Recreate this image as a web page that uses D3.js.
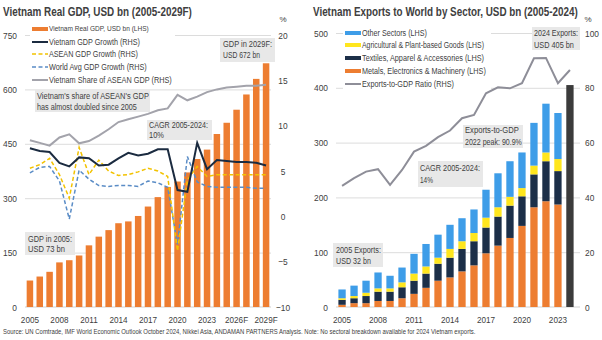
<!DOCTYPE html>
<html><head><meta charset="utf-8">
<script src="https://cdn.jsdelivr.net/npm/d3@7"></script>
<style>
body{margin:0;background:#fff;}
svg text{font-family:'Liberation Sans',Arial,sans-serif;fill:#404040;}
</style></head><body>
<script>
// ---------- DATA: left chart ----------
const gdpYears = ["2005","2006","2007","2008","2009","2010","2011","2012","2013","2014","2015","2016","2017","2018","2019","2020","2021","2022","2023","2024","2025F","2026F","2027F","2028F","2029F"];
const gdpTickLabels = ["2005","2008","2011","2014","2017","2020","2023","2026F","2029F"];
const realGDP = [73,84,97,123,129,142,170,194,212,231,236,251,277,303,331,346,371,408,434,477,508,544,586,629,672];
const vnGrowth = [7.5,7.2,7.1,5.9,5.5,6.5,6.4,5.6,5.7,6.4,7.0,6.7,6.9,7.4,7.4,2.9,2.7,8.1,5.2,6.2,6.1,6.0,6.0,5.9,5.6];
const aseanGrowth = [5.3,5.7,6.4,4.6,2.0,7.6,4.6,6.2,5.0,4.5,4.6,4.9,5.3,5.0,4.4,-3.8,4.0,5.5,4.4,4.6,4.6,4.6,4.6,4.6,4.6];
const worldGrowth = [4.8,5.4,5.5,3.9,-0.3,5.1,4.1,3.4,3.3,3.4,3.4,3.3,3.9,3.7,3.2,-3.1,6.6,3.8,3.3,3.2,3.2,3.2,3.2,3.1,3.1];
const vnShareASEAN = [8.4,8.1,7.8,8.7,9.05,8.05,8.3,8.9,9.6,10.4,10.7,11.0,11.3,11.7,11.9,13.4,12.8,13.2,13.7,14.0,14.2,14.3,14.4,14.4,14.5];
const leftTicksL = [0,150,300,450,600,750];
const leftTicksR = [-10,-5,0,5,10,15,20];

// ---------- DATA: right chart ----------
const exYears = ["2005","2006","2007","2008","2009","2010","2011","2012","2013","2014","2015","2016","2017","2018","2019","2020","2021","2022","2023","2024"];
const exTickLabels = ["2005","2008","2011","2014","2017","2020","2023"];
const metals   = [4,7,7,11,11,16,24,35,48,54,65,76,98,112,126,148,182,193,187,0];
const textiles = [9,9,13,17,17,20,24,26,31,36,41,44,47,53,59,54,60,73,61,0];
const agri     = [3,4,6,6,6,9,13,13,11,16,14,15,18,17,16,15,16,16,22,0];
const other    = [16,19,22,29,23,27,36,41,42,44,42,43,51,62,65,65,78,89,84,0];
const totalNoBreakdown = [0,0,0,0,0,0,0,0,0,0,0,0,0,0,0,0,0,0,0,405];
const exportsToGDP = [44.2,47,49.4,50.3,44.6,50,56.7,58.8,62,64.4,68.9,70.1,78,80.2,79.8,81.7,90.8,90.9,81.7,86.5];
const rightTicksL = [0,100,200,300,400,500];
const rightTicksR = [0,20,40,60,80,100];

// ---------- STYLE ----------
const C = {orange:"#ED7D31", navy:"#1B2B40", yellow:"#F2C200", blueDash:"#5A8CC6", gray:"#A3A3AB",
           blue:"#3E9DE8", yel2:"#FFE61E", navy2:"#1C2F48", dark:"#3B3B3B", grid:"#DCDCDC", box:"#E8E8E8"};

const svg = d3.select("body").append("svg").attr("width",602).attr("height",340);

// horizontally scale a text about its anchor x so that it is w px wide (or by factor f)
function scaleText(node, f){
  const x0 = +(node.getAttribute("x")||0);
  const prev = node.getAttribute("transform")||"";
  node.setAttribute("transform", prev+` translate(${x0},0) scale(${f},1) translate(${-x0},0)`);
}
function fitText(sel, w){ sel.each(function(){ scaleText(this, w/this.getComputedTextLength()); }); return sel; }
function condense(sel, f){ sel.each(function(){ scaleText(this, f); }); }

function addBox(g, x, y, w, h, lines, base1, base2, tx, w1, w2){
  g.append("rect").attr("x",x).attr("y",y).attr("width",w).attr("height",h).attr("fill",C.box);
  fitText(g.append("text").attr("x",tx).attr("y",base1).attr("font-size",9).text(lines[0]), w1);
  fitText(g.append("text").attr("x",tx).attr("y",base2).attr("font-size",9).text(lines[1]), w2);
}

// ================= LEFT CHART =================
{
  const g = svg.append("g");
  const x = d3.scaleBand().domain(gdpYears).range([25,271]).paddingInner(0.34).paddingOuter(0.17);
  const yL = d3.scaleLinear().domain([0,750]).range([307,35]);
  const yR = d3.scaleLinear().domain([-10,20]).range([307,35]);
  const cx = d => x(d) + x.bandwidth()/2;

  g.append("g").attr("transform","translate(25,0)")
    .call(d3.axisLeft(yL).tickValues(leftTicksL.filter(v=>v>0)).tickSize(-246).tickFormat(""))
    .call(a=>a.select(".domain").remove())
    .selectAll("line").attr("stroke",C.grid).attr("stroke-width",1);
  g.append("line").attr("x1",25).attr("x2",271).attr("y1",yL(0)).attr("y2",yL(0)).attr("stroke","#D0D0D0");

  g.selectAll("rect.bar").data(realGDP).join("rect").attr("class","bar")
    .attr("x",(d,i)=>x(gdpYears[i])).attr("width",x.bandwidth())
    .attr("y",d=>yL(d)).attr("height",d=>yL(0)-yL(d)).attr("fill",C.orange);

  const line = arr => d3.line().x((d,i)=>cx(gdpYears[i])).y(d=>yR(d))(arr);
  g.append("path").attr("d",line(vnShareASEAN)).attr("fill","none").attr("stroke",C.gray).attr("stroke-width",2);
  g.append("path").attr("d",line(worldGrowth)).attr("fill","none").attr("stroke",C.blueDash).attr("stroke-width",1.5).attr("stroke-dasharray","4,2.5");
  g.append("path").attr("d",line(aseanGrowth)).attr("fill","none").attr("stroke",C.yellow).attr("stroke-width",1.5).attr("stroke-dasharray","4,2.5");
  g.append("path").attr("d",line(vnGrowth)).attr("fill","none").attr("stroke",C.navy).attr("stroke-width",2);

  condense(g.append("g").attr("transform","translate(20,0)")
    .call(d3.axisLeft(yL).tickValues(leftTicksL).tickSize(0).tickPadding(3))
    .call(a=>a.select(".domain").remove())
    .selectAll("text").attr("font-size",9.5).attr("fill","#404040"), 0.88);
  condense(g.append("g").attr("transform","translate(276,0)")
    .call(d3.axisRight(yR).tickValues(leftTicksR).tickSize(0).tickPadding(0))
    .call(a=>a.select(".domain").remove())
    .selectAll("text").attr("font-size",9.5).attr("text-anchor","middle").attr("x",7).attr("fill","#404040"), 0.88);
  g.append("text").attr("x",283).attr("y",22).attr("text-anchor","middle").attr("font-size",8).text("%");
  condense(g.append("g").attr("transform","translate(0,307)")
    .call(d3.axisBottom(x).tickValues(gdpTickLabels).tickSize(0).tickPadding(9))
    .call(a=>a.select(".domain").remove())
    .selectAll("text").attr("font-size",9.5).attr("fill","#404040"), 0.86);

  const lg = g.append("g");
  lg.append("rect").attr("x",30).attr("y",24).attr("width",145).attr("height",62).attr("fill","#fff");
  const leg = [
    {t:"Vietnam Real GDP, USD bn (LHS)", type:"bar", c:C.orange, y:29, fs:7, w:100},
    {t:"Vietnam GDP Growth (RHS)", type:"line", c:C.navy, y:42, fs:9, w:91},
    {t:"ASEAN GDP Growth (RHS)", type:"dash", c:C.yellow, y:54, fs:9, w:89},
    {t:"World Avg GDP Growth (RHS)", type:"dash", c:C.blueDash, y:67, fs:9, w:98},
    {t:"Vietnam Share of ASEAN GDP (RHS)", type:"line", c:C.gray, y:80, fs:9, w:123}
  ];
  leg.forEach(d=>{
    if(d.type==="bar") lg.append("rect").attr("x",32).attr("y",d.y-2).attr("width",16).attr("height",4).attr("fill",d.c);
    else lg.append("line").attr("x1",32).attr("x2",48).attr("y1",d.y).attr("y2",d.y).attr("stroke",d.c)
          .attr("stroke-width",d.type==="line"?2:1.5).attr("stroke-dasharray",d.type==="dash"?"4,2.5":null);
    fitText(lg.append("text").attr("x",49).attr("y",d.y+(d.fs===7?2.5:3.2)).attr("font-size",d.fs).text(d.t), d.w);
  });

  addBox(g,35,90,115,22,["Vietnam's share of ASEAN's GDP","has almost doubled since 2005"],99.5,110,37,112,100);
  addBox(g,147,120,65,20,["CAGR 2005-2024:","10%"],128.5,138.5,149,59,15);
  addBox(g,220,38,55,24,["GDP in 2029F:","USD 672 bn"],47.5,58.5,223,49,37);
  addBox(g,25,232,50,23,["GDP in 2005:","USD 73 bn"],242,252.5,28,44,37);

  fitText(g.append("text").attr("x",3).attr("y",16).attr("font-size",12.5).attr("font-weight","bold").attr("fill","#1a1a1a")
    .text("Vietnam Real GDP, USD bn (2005-2029F)"), 189);
}

// ================= RIGHT CHART =================
{
  const g = svg.append("g");
  const x = d3.scaleBand().domain(exYears).range([336,576]).paddingInner(0.39).paddingOuter(0.2);
  const yL = d3.scaleLinear().domain([0,500]).range([307,33]);
  const yR = d3.scaleLinear().domain([0,100]).range([307,33]);
  const cx = d => x(d) + x.bandwidth()/2;

  g.append("g").attr("transform","translate(336,0)")
    .call(d3.axisLeft(yL).tickValues(rightTicksL.filter(v=>v>0)).tickSize(-244).tickFormat(""))
    .call(a=>a.select(".domain").remove())
    .selectAll("line").attr("stroke",C.grid);
  g.append("line").attr("x1",336).attr("x2",580).attr("y1",yL(0)).attr("y2",yL(0)).attr("stroke","#D0D0D0");

  const rows = exYears.map((yr,i)=>({yr, metals:metals[i], textiles:textiles[i], agri:agri[i], other:other[i], total:totalNoBreakdown[i]}));
  const keys = ["metals","textiles","agri","other","total"];
  const colors = {metals:C.orange, textiles:C.navy2, agri:C.yel2, other:C.blue, total:C.dark};
  const stack = d3.stack().keys(keys)(rows);
  g.selectAll("g.ser").data(stack).join("g").attr("class","ser").attr("fill",d=>colors[d.key])
    .selectAll("rect").data(d=>d).join("rect")
    .attr("x",d=>x(d.data.yr)).attr("width",x.bandwidth())
    .attr("y",d=>yL(d[1])).attr("height",d=>yL(d[0])-yL(d[1]));

  g.append("path").attr("d",d3.line().x((d,i)=>cx(exYears[i])).y(d=>yR(d))(exportsToGDP))
    .attr("fill","none").attr("stroke","#8E8E98").attr("stroke-width",2);

  condense(g.append("g").attr("transform","translate(331,0)")
    .call(d3.axisLeft(yL).tickValues(rightTicksL).tickSize(0).tickPadding(3))
    .call(a=>a.select(".domain").remove())
    .selectAll("text").attr("font-size",9.5).attr("fill","#404040"), 0.88);
  condense(g.append("g").attr("transform","translate(585,0)")
    .call(d3.axisRight(yR).tickValues(rightTicksR).tickSize(0).tickPadding(0))
    .call(a=>a.select(".domain").remove())
    .selectAll("text").attr("font-size",9.5).attr("fill","#404040"), 0.88);
  g.append("text").attr("x",588).attr("y",22).attr("text-anchor","middle").attr("font-size",8).text("%");
  condense(g.append("g").attr("transform","translate(0,307)")
    .call(d3.axisBottom(x).tickValues(exTickLabels).tickSize(0).tickPadding(9))
    .call(a=>a.select(".domain").remove())
    .selectAll("text").attr("font-size",9.5).attr("fill","#404040"), 0.86);

  const lg = g.append("g");
  lg.append("rect").attr("x",343).attr("y",27).attr("width",148).attr("height",62).attr("fill","#fff");
  const leg = [
    {t:"Other Sectors (LHS)", type:"bar", c:C.blue, y:33, w:65},
    {t:"Agricultural & Plant-based Goods (LHS)", type:"bar", c:C.yel2, y:45, w:122},
    {t:"Textiles, Apparel & Accessories (LHS)", type:"bar", c:C.navy2, y:58, w:122},
    {t:"Metals, Electronics & Machinery (LHS)", type:"bar", c:C.orange, y:71, w:124},
    {t:"Exports-to-GDP Ratio (RHS)", type:"line", c:"#8E8E98", y:84, w:92}
  ];
  leg.forEach(d=>{
    if(d.type==="bar") lg.append("rect").attr("x",345).attr("y",d.y-2).attr("width",16).attr("height",4).attr("fill",d.c);
    else lg.append("line").attr("x1",345).attr("x2",361).attr("y1",d.y).attr("y2",d.y).attr("stroke",d.c).attr("stroke-width",2);
    fitText(lg.append("text").attr("x",362).attr("y",d.y+3.2).attr("font-size",9).text(d.t), d.w);
  });

  addBox(g,532,27,48,23,["2024 Exports:","USD 405 bn"],36.5,48,534,44,40);
  addBox(g,463,125,60,23,["Exports-to-GDP","2022 peak: 90.9%"],133,145,465,54,57);
  addBox(g,418,161,65,26,["CAGR 2005-2024:","14%"],171,183,420,60,13);
  addBox(g,333,243,50,24,["2005 Exports:","USD 32 bn"],253,264,336,45,35);

  fitText(g.append("text").attr("x",313).attr("y",16).attr("font-size",12.5).attr("font-weight","bold").attr("fill","#1a1a1a")
    .text("Vietnam Exports to World by Sector, USD bn (2005-2024)"), 265);
}

fitText(svg.append("text").attr("x",3).attr("y",334).attr("font-size",6.8).attr("fill","#333")
  .text("Source: UN Comtrade, IMF World Economic Outlook October 2024, Nikkei Asia, ANDAMAN PARTNERS Analysis. Note: No sectoral breakdown available for 2024 Vietnam exports."), 473);
</script>
</body></html>
